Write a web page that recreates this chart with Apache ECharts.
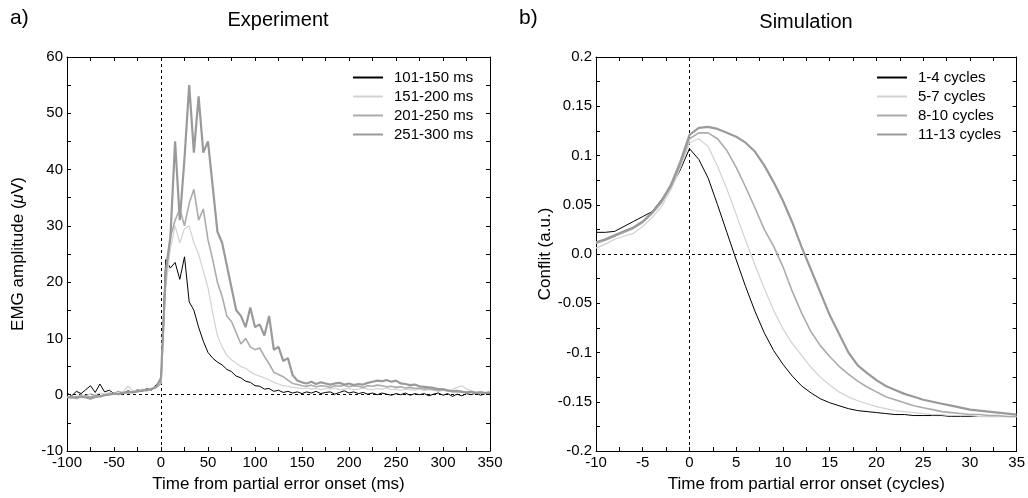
<!DOCTYPE html>
<html>
<head>
<meta charset="utf-8">
<script src="https://cdn.jsdelivr.net/npm/echarts@6.0.0/dist/echarts.min.js"></script>
<style>
  html, body { margin: 0; padding: 0; background: #fff; }
  #chart { width: 1028px; height: 498px; }
</style>
</head>
<body>
<div id="chart"></div>
<script>
// -------------------
// Data: a) experiment (EMG, every 5 ms)
// -------------------
const expTime = [-100,-95,-90,-85,-80,-75,-70,-65,-60,-55,-50,-45,-40,-35,-30,-25,-20,-15,-10,-5,
  0,5,10,15,20,25,30,35,40,45,50,55,60,65,70,75,80,85,90,95,
  100,105,110,115,120,125,130,135,140,145,150,155,160,165,170,175,180,185,190,195,
  200,205,210,215,220,225,230,235,240,245,250,255,260,265,270,275,280,285,290,295,
  300,305,310,315,320,325,330,335,340,345,350]

const emg101 = [0.3,-0.2,0.6,0.2,0.9,1.6,0.4,1.9,0.5,0.8,0.2,0.6,0.3,0.7,0.4,0.9,0.6,1.1,0.8,1.8,
  2.5,24,22.5,23.5,20.5,24.5,16.5,15,12,9.5,
  7.5,6.5,5.8,5.3,4.5,4.1,3.3,3.0,2.4,2.2,
  1.6,1.5,1.0,1.1,0.6,0.8,0.4,0.6,0.3,0.5,
  0.2,0.5,0.3,0.6,0.2,0.4,0.5,0.1,0.4,0.7,
  0.3,0.5,0.2,0.4,0.1,0.3,0.0,0.3,0.1,-0.1,
  0.2,0.0,0.3,-0.1,0.2,0.0,0.2,-0.2,0.1,0.3,
  -0.1,0.2,-0.3,0.1,-0.2,0.2,0.0,0.3,-0.1,0.2,
  0.1]
const emg151 = [-0.5,-0.3,-0.4,0,-0.2,0.2,0,0.3,0.1,0.4,0.2,0.5,0.6,1.5,0.7,0.8,1,0.9,1.2,1.5,
  2,19,26,30,27,29.5,30,27,25,22,
  19,14.5,10.5,8.5,7,6.2,5.6,5,4.7,4.1,
  3.6,3.3,3,2.6,2.2,1.9,1.6,1.5,1.3,1.2,
  1.1,1.2,1.0,1.1,0.9,1.1,1.0,1.2,0.9,1.0,
  1.1,0.9,1.0,1.2,1.0,0.9,1.1,1.0,1.2,0.9,
  1.0,0.8,1.0,0.9,0.8,1.0,0.7,0.9,0.8,0.6,
  0.8,0.6,0.9,1.3,1.6,1.0,0.7,0.5,0.6,0.4,
  0.5]
const emg201 = [-0.4,-0.6,-0.3,-0.5,-0.2,-0.4,-0.1,-0.3,0,0.1,0.2,0.1,0.4,0.3,0.5,0.6,0.8,0.7,1.0,1.3,
  2,21,28,31,33,30,34,36.5,31,33,
  27.5,24,20,17.5,14,13,11,9,10,8.5,
  8,8.3,6.8,5.5,4,3.6,3.2,2.6,2,1.8,
  1.6,1.5,1.7,1.4,1.6,1.5,1.3,1.6,1.5,1.7,
  1.4,1.6,1.5,1.3,1.6,1.5,1.7,1.6,1.4,1.5,
  1.3,1.4,1.2,1.3,1.1,1.2,1.0,1.1,0.9,0.8,
  0.9,0.7,0.6,0.5,0.6,0.4,0.5,0.3,0.4,0.3,
  0.4]
const emg251 = [-0.5,-0.4,-0.6,-0.3,-0.5,-0.7,-0.4,-0.3,-0.1,0,0.2,0.1,0.3,0.5,0.4,0.6,0.7,0.9,1.0,1.4,
  3,22,28,45,31,42,55,43,53,43,
  45,37,29,27,23,19,15,14,12,15.5,
  12,12.5,10.5,14,8,8.5,6,6.5,3.5,2.5,
  2.2,2.0,2.3,1.9,2.2,2.0,1.8,2.0,2.1,1.8,
  2.0,1.7,1.9,1.8,2.1,2.3,2.5,2.4,2.6,2.3,
  2.5,2.0,1.9,1.7,1.8,1.5,1.4,1.3,1.2,1.0,
  1.0,0.8,0.6,0.7,0.5,0.4,0.5,0.3,0.4,0.3,
  0.4]

// -------------------
// Data: b) simulation (conflict, every cycle)
// -------------------
const simTime = [-10,-9,-8,-7,-6,-5,-4,-3,-2,-1,0,1,2,3,4,5,6,7,8,9,10,11,12,13,14,15,16,17,18,19,
  20,21,22,23,24,25,26,27,28,29,30,31,32,33,34,35]

const sim1 = [0.022,0.022,0.023,0.028,0.033,0.038,0.043,0.055,0.068,0.085,
  0.107,0.096,0.077,0.050,0.022,-0.006,-0.033,-0.058,-0.080,-0.098,
  -0.112,-0.124,-0.134,-0.141,-0.147,-0.151,-0.154,-0.157,-0.159,-0.160,
  -0.161,-0.162,-0.163,-0.163,-0.164,-0.164,-0.164,-0.164,-0.165,-0.165,
  -0.165,-0.165,-0.165,-0.165,-0.165,-0.165]
const sim5 = [0.006,0.010,0.015,0.018,0.021,0.028,0.037,0.048,0.065,0.087,
  0.113,0.117,0.109,0.089,0.066,0.040,0.014,-0.011,-0.035,-0.057,
  -0.076,-0.091,-0.103,-0.115,-0.125,-0.133,-0.140,-0.145,-0.149,-0.152,
  -0.155,-0.157,-0.159,-0.160,-0.161,-0.162,-0.163,-0.163,-0.164,-0.164,
  -0.164,-0.165,-0.165,-0.165,-0.165,-0.165]
const sim8 = [0.011,0.014,0.018,0.022,0.026,0.032,0.041,0.052,0.068,0.090,
  0.117,0.123,0.123,0.117,0.105,0.088,0.068,0.047,0.025,0.008,
  -0.013,-0.038,-0.060,-0.079,-0.093,-0.104,-0.114,-0.122,-0.129,-0.135,
  -0.140,-0.145,-0.148,-0.151,-0.154,-0.156,-0.158,-0.160,-0.161,-0.162,
  -0.163,-0.163,-0.164,-0.164,-0.165,-0.165]
const sim11 = [0.012,0.015,0.019,0.023,0.027,0.033,0.042,0.054,0.070,0.093,
  0.121,0.128,0.129,0.127,0.123,0.119,0.113,0.104,0.090,0.073,
  0.054,0.032,0.007,-0.016,-0.039,-0.062,-0.081,-0.100,-0.113,-0.121,
  -0.128,-0.134,-0.138,-0.142,-0.145,-0.148,-0.150,-0.152,-0.154,-0.156,
  -0.158,-0.159,-0.160,-0.161,-0.162,-0.163]

const expNames = ['101-150 ms', '151-200 ms', '201-250 ms', '251-300 ms']
const simNames = ['1-4 cycles', '5-7 cycles', '8-10 cycles', '11-13 cycles']
const lineColors = ['#000000', '#d2d2d2', '#ababab', '#9a9a9a']
const lineWidths = [1, 1.2, 1.6, 2.2]

// -------------------
// Helpers
// -------------------
const FONT = 'Liberation Sans, Arial, Helvetica, sans-serif'
const pairs = (xs, ys) => xs.map((x, i) => [x, ys[i]])

function frameAxis(grid, pos, min, max, interval, withLabels, fmt){
  return {
    type: 'value', gridIndex: grid, position: pos, min, max, interval,
    axisLine: { show: true, onZero: false, lineStyle: { color: '#000', width: 1 } },
    axisTick: { show: true, inside: true, length: 4, lineStyle: { color: '#000' } },
    minorTick: { show: true, splitNumber: 2, length: 4, lineStyle: { color: '#000' } },
    splitLine: { show: false },
    axisLabel: { show: withLabels, color: '#000', fontSize: 15, fontFamily: FONT, margin: 4,
      formatter: fmt },
  }
}

const simFmt = v => {
  const r = Math.round(v * 100) / 100
  return r === 0 ? '0.0' : String(r)
}

const zeroLines = (xi, yi) => ({
  type: 'line', xAxisIndex: xi, yAxisIndex: yi, data: [], silent: true,
  markLine: {
    silent: true, symbol: 'none', animation: false, label: { show: false },
    lineStyle: { color: '#000', width: 1, type: [3, 3] },
    data: [{ xAxis: 0 }, { yAxis: 0 }]
  }
})

const expSeries = [emg101, emg151, emg201, emg251].map((vals, i) => ({
  name: expNames[i], type: 'line', xAxisIndex: 0, yAxisIndex: 0,
  data: pairs(expTime, vals), symbol: 'none', z: 10 + i,
  lineStyle: { color: lineColors[i], width: lineWidths[i] }, itemStyle: { color: lineColors[i] }
}))
const simSeries = [sim1, sim5, sim8, sim11].map((vals, i) => ({
  name: simNames[i], type: 'line', xAxisIndex: 2, yAxisIndex: 2,
  data: pairs(simTime, vals), symbol: 'none', z: 10 + i,
  lineStyle: { color: lineColors[i], width: lineWidths[i] }, itemStyle: { color: lineColors[i] }
}))

const legendBase = {
  orient: 'vertical', padding: 0, itemWidth: 30, itemHeight: 14, itemGap: 4,
  itemStyle: { opacity: 0 },
  textStyle: { color: '#000', fontSize: 15, fontFamily: FONT, padding: [0, 0, 0, 6] }
}

// -------------------
// Chart
// -------------------
const chart = echarts.init(document.getElementById('chart'))
chart.setOption({
  animation: false,
  backgroundColor: '#fff',
  textStyle: { fontFamily: FONT },
  grid: [
    { left: 67, right: 538, top: 57, bottom: 47 },
    { left: 596, right: 11, top: 57, bottom: 47 }
  ],
  legend: [
    Object.assign({}, legendBase, { left: 352, top: 70, data: expNames }),
    Object.assign({}, legendBase, { left: 876, top: 70, data: simNames })
  ],
  xAxis: [
    Object.assign(frameAxis(0, 'bottom', -100, 350, 50, true), {
      name: 'Time from partial error onset (ms)', nameLocation: 'middle', nameGap: 25,
      nameTextStyle: { color: '#000', fontSize: 17, fontFamily: FONT }
    }),
    frameAxis(0, 'top', -100, 350, 50, false),
    Object.assign(frameAxis(1, 'bottom', -10, 35, 5, true), {
      name: 'Time from partial error onset (cycles)', nameLocation: 'middle', nameGap: 25,
      nameTextStyle: { color: '#000', fontSize: 17, fontFamily: FONT }
    }),
    frameAxis(1, 'top', -10, 35, 5, false)
  ],
  yAxis: [
    Object.assign(frameAxis(0, 'left', -10, 60, 10, true), {
      name: '{a|EMG amplitude (}{i|μ}{a|V)}', nameLocation: 'middle', nameGap: 40,
      nameTextStyle: { color: '#000', fontSize: 17, fontFamily: FONT,
        rich: { a: { fontSize: 17, fontFamily: FONT, color: '#000' },
                i: { fontSize: 17, fontFamily: FONT, color: '#000', fontStyle: 'italic' } } }
    }),
    frameAxis(0, 'right', -10, 60, 10, false),
    Object.assign(frameAxis(1, 'left', -0.2, 0.2, 0.05, true, simFmt), {
      name: 'Conflit (a.u.)', nameLocation: 'middle', nameGap: 40,
      nameTextStyle: { color: '#000', fontSize: 17, fontFamily: FONT }
    }),
    frameAxis(1, 'right', -0.2, 0.2, 0.05, false)
  ],
  graphic: [
    { type: 'text', left: 10, top: 8, style: { text: 'a)', fontSize: 21, fontFamily: FONT, fill: '#000' } },
    { type: 'text', x: 278, y: 20, style: { text: 'Experiment', fontSize: 20, fontFamily: FONT, fill: '#000',
      textAlign: 'center', textVerticalAlign: 'middle' } },
    { type: 'text', left: 519, top: 8, style: { text: 'b)', fontSize: 21, fontFamily: FONT, fill: '#000' } },
    { type: 'text', x: 806, y: 22, style: { text: 'Simulation', fontSize: 20, fontFamily: FONT, fill: '#000',
      textAlign: 'center', textVerticalAlign: 'middle' } }
  ],
  series: [zeroLines(0, 0), zeroLines(2, 2)].concat(expSeries, simSeries)
})
</script>
</body>
</html>
